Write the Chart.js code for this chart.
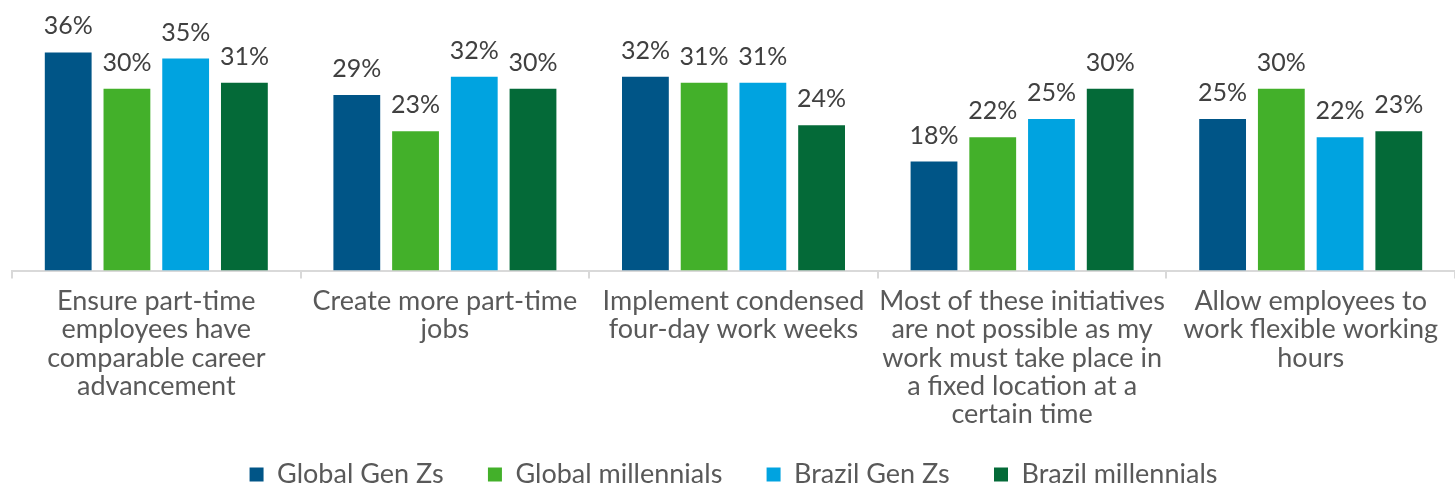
<!DOCTYPE html>
<html>
<head>
    <meta charset="utf-8">
    <title>Work initiatives</title>
    <script src="https://cdn.jsdelivr.net/npm/chart.js@4/dist/chart.umd.min.js"></script>
    <style>
        html, body { margin: 0; padding: 0; background: #fff; }
        #wrap { width: 1455px; height: 487px; }
    </style>
</head>
<body>
<div id="wrap"><canvas id="myChart"></canvas></div>

<script>
    // categories, pre-wrapped like the original
    const categories = [
        ["Ensure part-time", "employees have", "comparable career", "advancement"],
        ["Create more part-time", "jobs"],
        ["Implement condensed", "four-day work weeks"],
        ["Most of these initiatives", "are not possible as my", "work must take place in", "a fixed location at a", "certain time"],
        ["Allow employees to", "work flexible working", "hours"]
    ];
    const seriesNames = ["Global Gen Zs", "Global millennials", "Brazil Gen Zs", "Brazil millennials"];
    const globalGenZ = [36, 29, 32, 18, 25];
    const globalMillennials = [30, 23, 31, 22, 30];
    const brazilGenZ = [35, 32, 31, 25, 22];
    const brazilMillennials = [31, 30, 24, 30, 23];
    const colors = ["#005587", "#43B02A", "#00A3E0", "#046A38"];

    const FONT = "Lato, 'Open Sans', sans-serif";

    // draws "NN%" above every bar
    const valueLabels = {
        id: 'valueLabels',
        afterDatasetsDraw(chart) {
            const ctx = chart.ctx;
            ctx.save();
            ctx.font = "25px " + FONT;
            ctx.fillStyle = "#404040";
            ctx.textAlign = "center";
            ctx.textBaseline = "alphabetic";
            chart.data.datasets.forEach((ds, i) => {
                chart.getDatasetMeta(i).data.forEach((bar, j) => {
                    ctx.fillText(ds.data[j] + "%", bar.x, bar.y - 18);
                });
            });
            ctx.restore();
        }
    };

    const allSeries = [globalGenZ, globalMillennials, brazilGenZ, brazilMillennials];

    new Chart(document.getElementById('myChart'), {
        type: 'bar',
        data: {
            labels: categories,
            datasets: allSeries.map((d, i) => ({
                label: seriesNames[i],
                data: d,
                backgroundColor: colors[i],
                categoryPercentage: 0.814,
                barPercentage: 0.797
            }))
        },
        options: {
            responsive: true,
            maintainAspectRatio: false,
            animation: false,
            layout: { padding: { left: 12, right: 0, top: 4, bottom: -11 } },
            scales: {
                y: { display: false, min: 0, max: 44 },
                x: {
                    border: { color: "#d9d9d9", width: 2 },
                    grid: { offset: true, drawOnChartArea: false, tickLength: 8, color: "#d9d9d9", lineWidth: 2 },
                    ticks: {
                        color: "#595959",
                        font: { family: FONT, size: 27, lineHeight: 1.04 },
                        maxRotation: 0,
                        autoSkip: false,
                        padding: 9
                    }
                }
            },
            plugins: {
                legend: {
                    position: 'bottom',
                    labels: {
                        color: "#595959",
                        font: { family: FONT, size: 27 },
                        boxWidth: 14,
                        boxHeight: 14,
                        padding: 24,
                        // padding also sets the row height, so widen the gaps with a space instead
                        generateLabels(chart) {
                            const items = Chart.defaults.plugins.legend.labels.generateLabels(chart);
                            items.forEach((it, i) => {
                                if (i < items.length - 1) it.text += "\u2003";
                            });
                            return items;
                        }
                    }
                },
                tooltip: { enabled: false }
            }
        },
        plugins: [valueLabels]
    });
</script>
</body>
</html>
